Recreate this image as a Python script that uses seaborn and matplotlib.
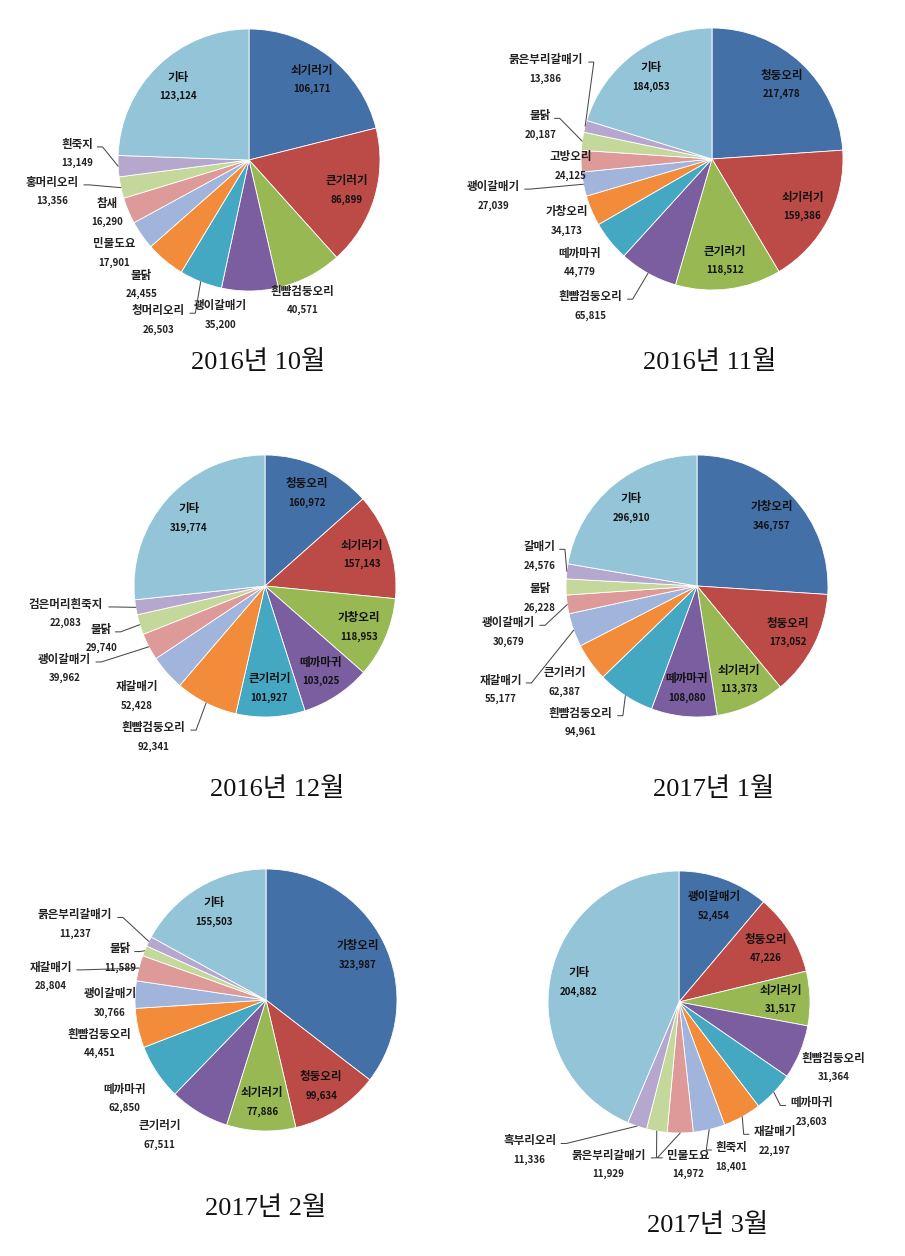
import numpy as np
import pandas as pd
import seaborn as sns
import matplotlib
matplotlib.use("Agg")
import matplotlib.pyplot as plt

# ---------------- data ----------------
titles = ["2016년 10월", "2016년 11월", "2016년 12월", "2017년 1월", "2017년 2월", "2017년 3월"]

oct16_names = ["쇠기러기", "큰기러기", "흰뺨검둥오리", "괭이갈매기", "청머리오리", "물닭",
               "민물도요", "참새", "홍머리오리", "흰죽지", "기타"]
oct16_values = [106171, 86899, 40571, 35200, 26503, 24455, 17901, 16290, 13356, 13149, 123124]

nov16_names = ["청둥오리", "쇠기러기", "큰기러기", "흰뺨검둥오리", "떼까마귀", "가창오리",
               "괭이갈매기", "고방오리", "물닭", "붉은부리갈매기", "기타"]
nov16_values = [217478, 159386, 118512, 65815, 44779, 34173, 27039, 24125, 20187, 13386, 184053]

dec16_names = ["청둥오리", "쇠기러기", "가창오리", "떼까마귀", "큰기러기", "흰뺨검둥오리",
               "재갈매기", "괭이갈매기", "물닭", "검은머리흰죽지", "기타"]
dec16_values = [160972, 157143, 118953, 103025, 101927, 92341, 52428, 39962, 29740, 22083, 319774]

jan17_names = ["가창오리", "청둥오리", "쇠기러기", "떼까마귀", "흰뺨검둥오리", "큰기러기",
               "재갈매기", "괭이갈매기", "물닭", "갈매기", "기타"]
jan17_values = [346757, 173052, 113373, 108080, 94961, 62387, 55177, 30679, 26228, 24576, 296910]

feb17_names = ["가창오리", "청둥오리", "쇠기러기", "큰기러기", "떼까마귀", "흰뺨검둥오리",
               "괭이갈매기", "재갈매기", "물닭", "붉은부리갈매기", "기타"]
feb17_values = [323987, 99634, 77886, 67511, 62850, 44451, 30766, 28804, 11589, 11237, 155503]

mar17_names = ["괭이갈매기", "청둥오리", "쇠기러기", "흰뺨검둥오리", "떼까마귀", "재갈매기",
               "흰죽지", "민물도요", "붉은부리갈매기", "흑부리오리", "기타"]
mar17_values = [52454, 47226, 31517, 31364, 23603, 22197, 18401, 14972, 11929, 11336, 204882]

datasets = [(oct16_names, oct16_values), (nov16_names, nov16_values),
            (dec16_names, dec16_values), (jan17_names, jan17_values),
            (feb17_names, feb17_values), (mar17_names, mar17_values)]

# ---------------- style / layout ----------------
sns.set_theme(style="white")
plt.rcParams["font.family"] = ["Noto Sans CJK KR", "DejaVu Sans"]

colors = ["#4470A8", "#BC4A47", "#97B852", "#7B5E9F", "#45A8C3", "#F28C3B",
          "#A0B4DC", "#DE9A99", "#C4D89B", "#B6A7CE", "#93C4D8"]

W, H = 905, 1256
R = 131.0
centers = [(249, 160), (712, 159), (265, 586), (697, 586), (266, 1000), (679, 1002)]
title_pos = [(258, 362), (710, 362), (277, 789), (714, 789), (266, 1208), (708, 1225)]
n_inside = [2, 3, 5, 4, 3, 3]
# outside label placement (in radius units relative to the pie centre), leader-line flag
outside = [
    [(0.41, -1.07, 0), (-0.22, -1.18, 0), (-0.69, -1.22, 1), (-0.82, -0.95, 0),
     (-1.03, -0.71, 0), (-1.08, -0.40, 0), (-1.50, -0.24, 1), (-1.31, 0.05, 1)],
    [(-0.93, -1.12, 1), (-1.01, -0.79, 0), (-1.11, -0.47, 0), (-1.67, -0.28, 1),
     (-1.08, -0.05, 0), (-1.31, 0.26, 1), (-1.27, 0.69, 1)],
    [(-0.85, -1.15, 1), (-0.98, -0.84, 0), (-1.53, -0.63, 1), (-1.25, -0.40, 1),
     (-1.52, -0.21, 1)],
    [(-0.89, -1.04, 1), (-1.01, -0.73, 0), (-1.50, -0.79, 1), (-1.44, -0.35, 1),
     (-1.20, -0.09, 0), (-1.20, 0.23, 1)],
    [(-0.81, -1.03, 0), (-1.08, -0.75, 0), (-1.27, -0.33, 0), (-1.19, -0.02, 0),
     (-1.64, 0.18, 1), (-1.11, 0.32, 1), (-1.46, 0.58, 1)],
    [(1.18, -0.50, 0), (1.01, -0.84, 1), (0.73, -1.06, 1), (0.40, -1.18, 1),
     (0.07, -1.24, 1), (-0.54, -1.24, 1), (-1.14, -1.13, 1)],
]

fig = plt.figure(figsize=(W / 100, H / 100), dpi=100)
fig.patch.set_facecolor("white")

A, B = 1.76, 1.45
name_fs, num_fs = 8.3, 7.0
char_w = 0.088  # approx width of one Hangul glyph in radius units

for k, (names, values) in enumerate(datasets):
    cx, cy = centers[k]
    ax = fig.add_axes([(cx - A * R) / W, 1 - (cy + B * R) / H, 2 * A * R / W, 2 * B * R / H])
    ax.axis("off")
    ax.patch.set_alpha(0)
    df = pd.DataFrame({"name": names, "value": values})
    wedges, _ = ax.pie(df["value"], colors=colors, startangle=90, counterclock=False,
                       radius=1.0, center=(0, 0), frame=False,
                       wedgeprops=dict(edgecolor="white", linewidth=0.6))
    ax.set_xlim(-A, A)
    ax.set_ylim(-B, B)
    inside_idx = list(range(n_inside[k])) + [len(names) - 1]
    out_idx = [i for i in range(len(names)) if i not in inside_idx]
    for i, w in enumerate(wedges):
        mid = np.deg2rad((w.theta1 + w.theta2) / 2)
        nm = df["name"][i]
        val = f"{df['value'][i]:,}"
        if i in inside_idx:
            lx, ly = 0.78 * np.cos(mid), 0.78 * np.sin(mid)
            col = "#111111"
        else:
            lx, ly, lead = outside[k][out_idx.index(i)]
            col = "#222222"
            if lead:
                ex, ey = np.cos(mid), np.sin(mid)
                half = len(nm) * char_w / 2 + 0.02
                side = 1 if lx < ex else -1
                px2, py2 = lx + side * half, ly + 0.05
                px1 = px2 + side * 0.04
                ax.plot([ex, px1, px2], [ey, py2, py2], color="#4a4a4a", lw=0.75,
                        clip_on=False, solid_joinstyle="miter")
        ax.text(lx, ly + 0.07, nm, ha="center", va="center", fontsize=name_fs,
                fontweight="bold", color=col, clip_on=False)
        ax.text(lx, ly - 0.075, val, ha="center", va="center", fontsize=num_fs,
                fontweight="bold", color=col, clip_on=False)

for t, (tx, ty) in zip(titles, title_pos):
    fig.text(tx / W, 1 - ty / H, t, ha="center", va="center", fontsize=19,
             family=["Liberation Serif", "Noto Sans CJK KR"], color="#111111")

fig.savefig("out.png", dpi=100)
